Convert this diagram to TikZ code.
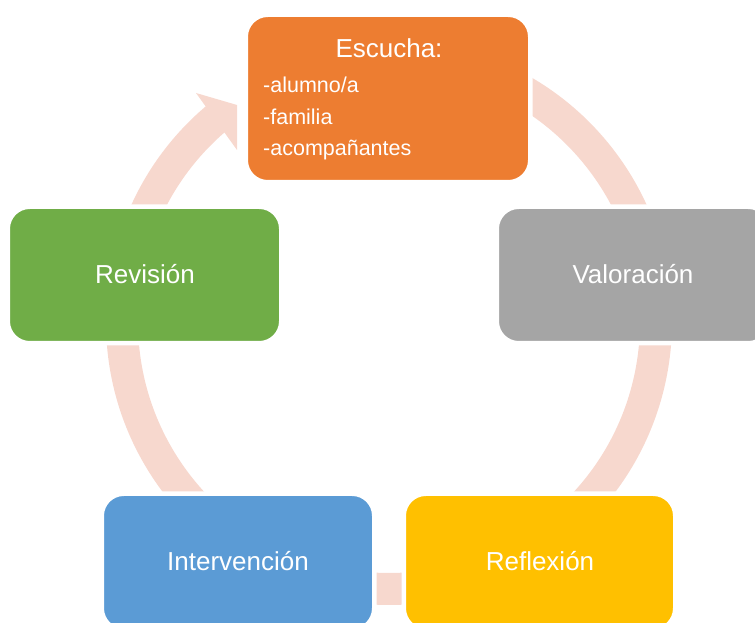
\documentclass[tikz,border=0pt]{standalone}
\usepackage{fontspec}
\setmainfont{Liberation Sans}
\definecolor{ringc}{HTML}{F7D8CE}
\definecolor{orangec}{HTML}{ED7D31}
\definecolor{grayc}{HTML}{A5A5A5}
\definecolor{yellowc}{HTML}{FFC000}
\definecolor{bluec}{HTML}{5B9BD5}
\definecolor{greenc}{HTML}{70AD47}
\begin{document}
\begin{tikzpicture}[x=1pt,y=1pt,
  stagebox/.style={rectangle, rounded corners=22pt, draw=white, line width=4.5pt, inner sep=0pt},
  bigtxt/.style={text=white, font=\fontsize{26}{30}\selectfont, anchor=base, inner sep=0pt},
  smalltxt/.style={text=white, font=\fontsize{21.5}{26}\selectfont, anchor=base west, inner sep=0pt},
  ringline/.style={draw=ringc, line width=32pt}]
\useasboundingbox (0,0) rectangle (755,623);
\clip (0,0) rectangle (755,623);
% cycle ring
\coordinate (c) at (389,301);
\draw[ringline] (c) ++(128.5:267pt) arc[start angle=128.5, end angle=460, radius=267pt];
\fill[ringc] (196,530) -- (237,518) -- (237,473) -- cycle;
% boxes
\node[stagebox, fill=orangec, minimum width=284.5pt, minimum height=167.5pt] (esc) at (388,524.5) {};
\node[stagebox, fill=greenc, minimum width=273.5pt, minimum height=136.5pt] (rev) at (144.5,348) {};
\node[stagebox, fill=grayc, minimum width=273.5pt, minimum height=136.5pt] (val) at (633.5,348) {};
\node[stagebox, fill=bluec, minimum width=272.5pt, minimum height=136.5pt] (int) at (238,61) {};
\node[stagebox, fill=yellowc, minimum width=271.5pt, minimum height=136.5pt] (ref) at (539.5,61) {};
% texts
\node[bigtxt] (t1) at (389,565) {Escucha:};
\node[smalltxt] (l1) at (263,530) {-alumno/a};
\node[smalltxt] (l2) at (263,498) {-familia};
\node[smalltxt] (l3) at (263,467) {-acompañantes};
\node[bigtxt] (t2) at (145,339) {Revisión};
\node[bigtxt] (t3) at (633,339) {Valoración};
\node[bigtxt] (t4) at (238,52) {Intervención};
\node[bigtxt] (t5) at (540,52) {Reflexión};
\end{tikzpicture}
\end{document}
